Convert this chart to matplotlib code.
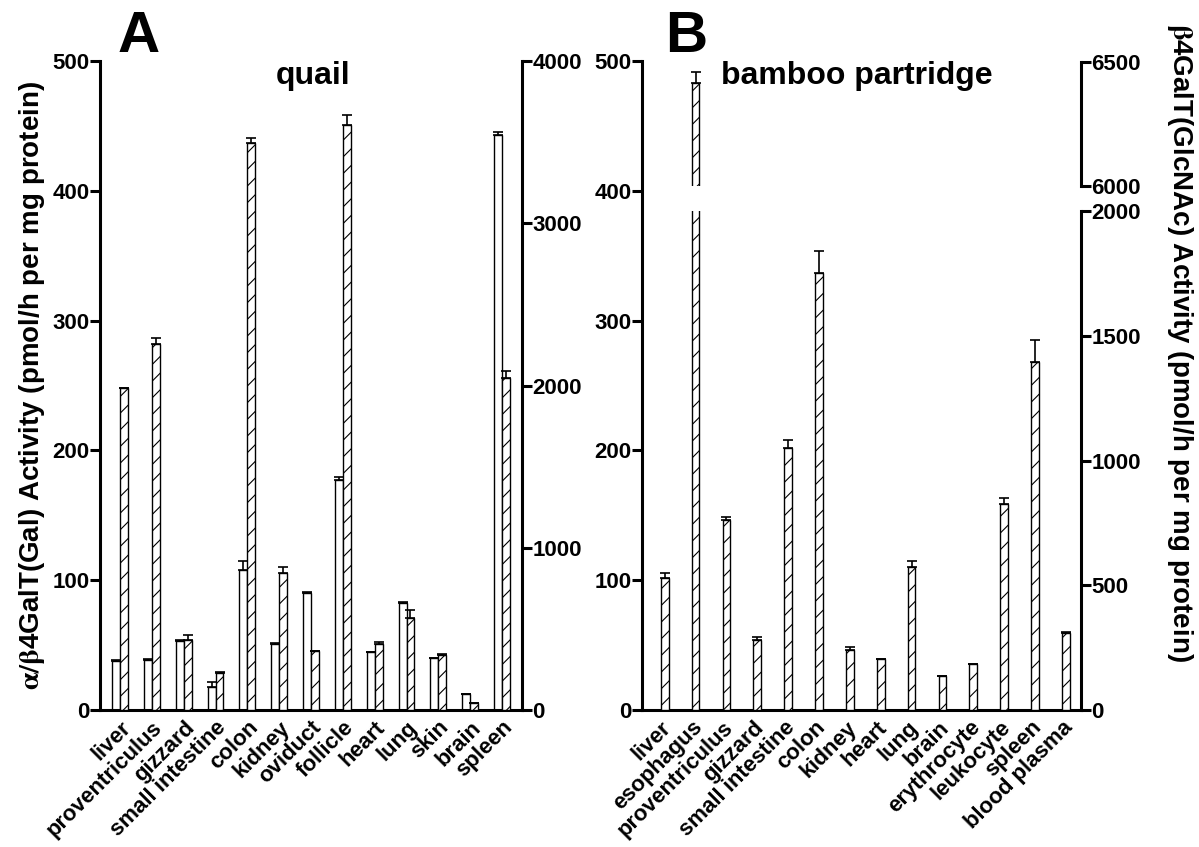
import numpy as np
import matplotlib.pyplot as plt

plt.rcParams['font.family'] = ['Liberation Sans', 'DejaVu Sans']
plt.rcParams['font.weight'] = 'bold'
plt.rcParams['axes.labelweight'] = 'bold'
plt.rcParams['mathtext.fontset'] = 'stix'
plt.rcParams['hatch.linewidth'] = 0.8

# panel A - quail
quail_tissues = ['liver', 'proventriculus', 'gizzard', 'small intestine', 'colon', 'kidney',
                 'oviduct', 'follicle', 'heart', 'lung', 'skin', 'brain', 'spleen']
quail_gal = [38, 38.5, 53, 18, 108, 50.6, 90, 177.5, 44.4, 82.4, 39.8, 12.3, 443]
quail_gal_err = [0.8, 0.5, 1, 3.8, 6.6, 1.2, 0.8, 2, 0.5, 0.8, 0.5, 0.3, 2]
quail_glc = [1986, 2256, 431, 230, 3493, 846, 364, 3605, 407, 567, 339, 41, 2044]
quail_glc_err = [0, 35, 29, 5, 34, 37, 0, 64, 14, 49, 5, 0, 45]

# panel B - bamboo partridge
bp_tissues = ['liver', 'esophagus', 'proventriculus', 'gizzard', 'small intestine', 'colon',
              'kidney', 'heart', 'lung', 'brain', 'erythrocyte', 'leukocyte', 'spleen',
              'blood plasma']
bp_glc = [528, 6414, 761, 281, 1051, 1750, 240, 206, 574, 135, 184, 824, 1395, 310]
bp_glc_err = [20, 44, 11, 10, 31, 91, 14, 0, 22, 0, 0, 24, 88, 4]

W = 0.25
LW = 1.0
TICK = dict(direction='out', length=7, width=2.2, labelsize=16, pad=0.5)


def open_bars(ax, x, vals, errs):
    ax.bar(x, vals, W, facecolor='white', edgecolor='black', lw=LW, zorder=2)
    ax.errorbar(x, vals, yerr=[np.zeros(len(errs)), errs], fmt='none', ecolor='black',
                elinewidth=1.2, capsize=3.5, capthick=1.2, zorder=1)


def hatch_bars(ax, x, vals, errs):
    ax.bar(x, vals, W, facecolor='white', edgecolor='black', lw=LW, hatch='//', zorder=2)
    ax.errorbar(x, vals, yerr=[np.zeros(len(errs)), errs], fmt='none', ecolor='black',
                elinewidth=1.2, capsize=3.5, capthick=1.2, zorder=1)


def setup_main(ax, tissues, xlim):
    x = np.arange(len(tissues))
    ax.set_xlim(*xlim)
    ax.set_ylim(0, 500)
    ax.set_yticks([0, 100, 200, 300, 400, 500])
    ax.set_xticks(x)
    ax.set_xticklabels(tissues, rotation=45, ha='right', rotation_mode='anchor', fontsize=16)
    ax.tick_params(axis='y', **TICK)
    ax.tick_params(axis='x', length=0, pad=5)
    for s in ['top', 'right']:
        ax.spines[s].set_visible(False)
    for s in ['left', 'bottom']:
        ax.spines[s].set_linewidth(2.2)


def setup_right(ax):
    ax.patch.set_visible(False)
    for s in ['top', 'left', 'bottom']:
        ax.spines[s].set_visible(False)
    ax.spines['right'].set_linewidth(2.2)
    ax.tick_params(axis='y', **TICK)
    ax.tick_params(axis='x', bottom=False, labelbottom=False)


fig = plt.figure(figsize=(11.99, 8.47), dpi=100)

# ---- A
axA = fig.add_axes([0.0834, 0.1617, 0.352, 0.7663])
xa = np.arange(len(quail_tissues))
setup_main(axA, quail_tissues, (-0.63, 12.63))
open_bars(axA, xa - W / 2, quail_gal, quail_gal_err)

axA2 = axA.twinx()
setup_right(axA2)
axA2.set_ylim(0, 4000)
axA2.set_yticks([0, 1000, 2000, 3000, 4000])
hatch_bars(axA2, xa + W / 2, quail_glc, quail_glc_err)
axA2.set_xlim(-0.63, 12.63)

# ---- B
xlimB = (-0.615, 13.615)
axB = fig.add_axes([0.5354, 0.1617, 0.3662, 0.7663])
xb = np.arange(len(bp_tissues))
setup_main(axB, bp_tissues, xlimB)

axB_lo = fig.add_axes([0.5354, 0.1617, 0.3662, 0.7509 - 0.1617])
setup_right(axB_lo)
axB_lo.yaxis.tick_right()
axB_lo.set_ylim(0, 2000)
axB_lo.set_yticks([0, 500, 1000, 1500, 2000])
axB_lo.set_xlim(*xlimB)
hatch_bars(axB_lo, xb + W / 2, bp_glc, bp_glc_err)

axB_hi = fig.add_axes([0.5354, 0.7804, 0.3662, 0.9268 - 0.7804])
setup_right(axB_hi)
axB_hi.yaxis.tick_right()
axB_hi.set_ylim(6000, 6500)
axB_hi.set_yticks([6000, 6500])
axB_hi.set_xlim(*xlimB)
hatch_bars(axB_hi, xb + W / 2, bp_glc, bp_glc_err)

# titles and labels
fig.text(0.116, 0.956, 'A', ha='center', va='center', fontsize=42)
fig.text(0.572, 0.956, 'B', ha='center', va='center', fontsize=42)
fig.text(0.261, 0.910, 'quail', ha='center', va='center', fontsize=23)
fig.text(0.715, 0.910, 'bamboo partridge', ha='center', va='center', fontsize=23)

fig.text(0.027, 0.545, r'$\mathrm{\alpha/\beta}$4GalT(Gal) Activity (pmol/h per mg protein)',
         rotation=90, ha='center', va='center', fontsize=20)
fig.text(0.984, 0.596, r'$\mathrm{\beta}$4GalT(GlcNAc) Activity (pmol/h per mg protein)',
         rotation=270, ha='center', va='center', fontsize=20)

fig.savefig('out.png', dpi=100)
